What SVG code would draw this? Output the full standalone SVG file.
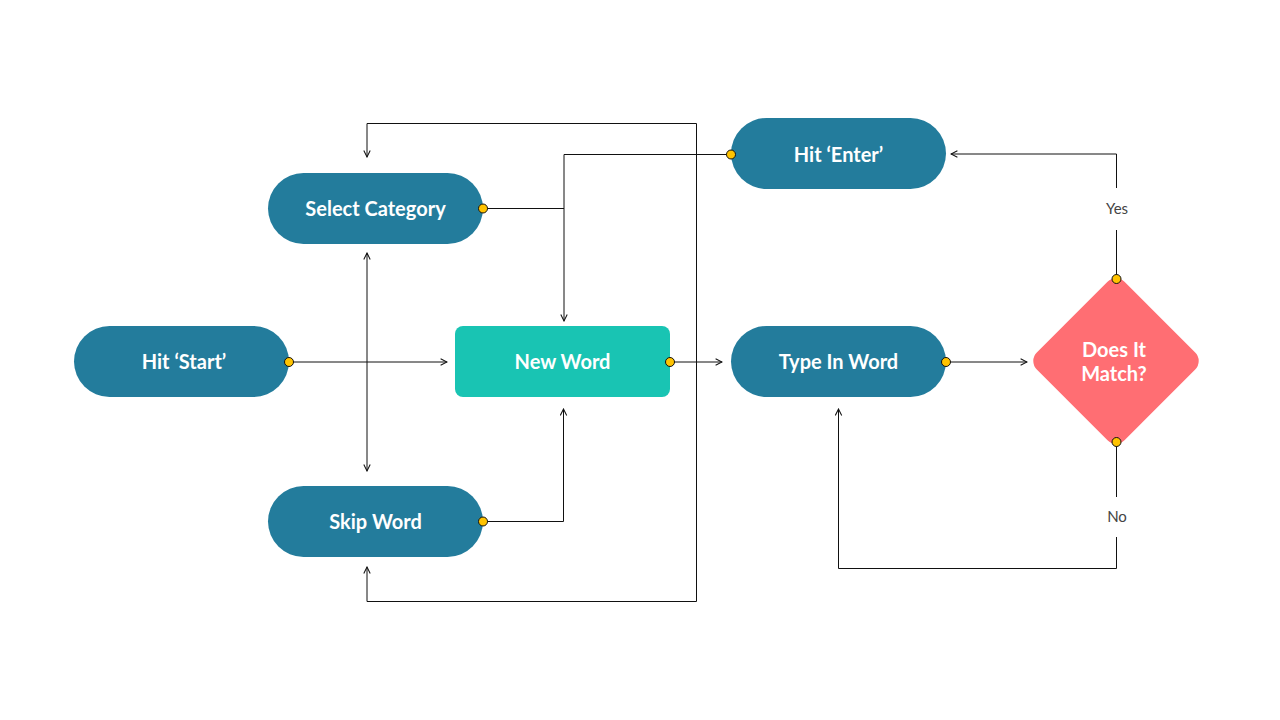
<svg xmlns="http://www.w3.org/2000/svg" width="1280" height="720" viewBox="0 0 1280 720">
<style>
.pill{fill:#237C9C}
.nw{fill:#19C4B3}
.dia{fill:#FF6E73}
.t{font-family:Lato,"Open Sans",sans-serif;font-weight:700;font-size:20px;fill:#fff;text-anchor:middle}
.lbl{font-family:Lato,"Open Sans",sans-serif;font-size:15px;fill:#444;text-anchor:middle}
.c{fill:none;stroke:#111;stroke-width:1}
.dot{fill:#FFC300;stroke:#111;stroke-width:1}
</style>
<defs>
<marker id="ah" viewBox="0 0 10 10" refX="9" refY="5" markerWidth="8" markerHeight="8" markerUnits="userSpaceOnUse" orient="auto-start-reverse">
<path d="M1,1 L9,5 L1,9" fill="none" stroke="#111" stroke-width="1.3"/>
</marker>
</defs>
<rect width="1280" height="720" fill="#fff"/>
<g id="connectors">
<path class="c" d="M289,362 H447" marker-end="url(#ah)"/>
<path class="c" d="M367,253 V471" marker-start="url(#ah)" marker-end="url(#ah)"/>
<path class="c" d="M483,208.5 H564"/>
<path class="c" d="M731,154.5 H564 V321" marker-end="url(#ah)"/>
<path class="c" d="M483,521.5 H563.5 V409" marker-end="url(#ah)"/>
<path class="c" d="M670,362 H722" marker-end="url(#ah)"/>
<path class="c" d="M367,157 V123.5 H696.5 V601.5 H367 V567" marker-start="url(#ah)" marker-end="url(#ah)"/>
<path class="c" d="M946,362 H1027" marker-end="url(#ah)"/>
<path class="c" d="M1116.5,279 V230"/>
<path class="c" d="M1116.5,188 V154 H951" marker-end="url(#ah)"/>
<path class="c" d="M1116.5,442 V497"/>
<path class="c" d="M1116.5,537 V568.5 H838.5 V409" marker-end="url(#ah)"/>
<text class="lbl" x="1117" y="214">Yes</text>
<text class="lbl" x="1117" y="522">No</text>
</g>
<g id="select-category">
<rect class="pill" x="268" y="173" width="215" height="71" rx="35.5"/>
<text class="t" x="375.5" y="215.5">Select Category</text>
<circle class="dot" cx="483" cy="208.5" r="4.5"/>
</g>
<g id="hit-start">
<rect class="pill" x="74" y="326" width="215" height="71" rx="35.5"/>
<text class="t" x="184" y="369">Hit ‘Start’</text>
<circle class="dot" cx="289" cy="362" r="4.5"/>
</g>
<g id="skip-word">
<rect class="pill" x="268" y="486" width="215" height="71" rx="35.5"/>
<text class="t" x="375.5" y="528.5">Skip Word</text>
<circle class="dot" cx="483" cy="521.5" r="4.5"/>
</g>
<g id="new-word">
<rect class="nw" x="455" y="326" width="215" height="71" rx="8"/>
<text class="t" x="562.5" y="369">New Word</text>
<circle class="dot" cx="670" cy="362" r="4.5"/>
</g>
<g id="hit-enter">
<rect class="pill" x="731" y="118" width="215" height="71" rx="35.5"/>
<text class="t" x="838.5" y="161.5">Hit ‘Enter’</text>
<circle class="dot" cx="731" cy="154.5" r="4.5"/>
</g>
<g id="type-in-word">
<rect class="pill" x="731" y="326" width="215" height="71" rx="35.5"/>
<text class="t" x="838.5" y="369">Type In Word</text>
<circle class="dot" cx="946" cy="362" r="4.5"/>
</g>
<g id="does-it-match">
<rect class="dia" x="-62" y="-62" width="124" height="124" rx="12" transform="translate(1116,361) rotate(45)"/>
<text class="t" x="1114" y="357">Does It</text>
<text class="t" x="1114" y="381">Match?</text>
<circle class="dot" cx="1116.5" cy="279" r="4.5"/>
<circle class="dot" cx="1116.5" cy="442" r="4.5"/>
</g>
</svg>
